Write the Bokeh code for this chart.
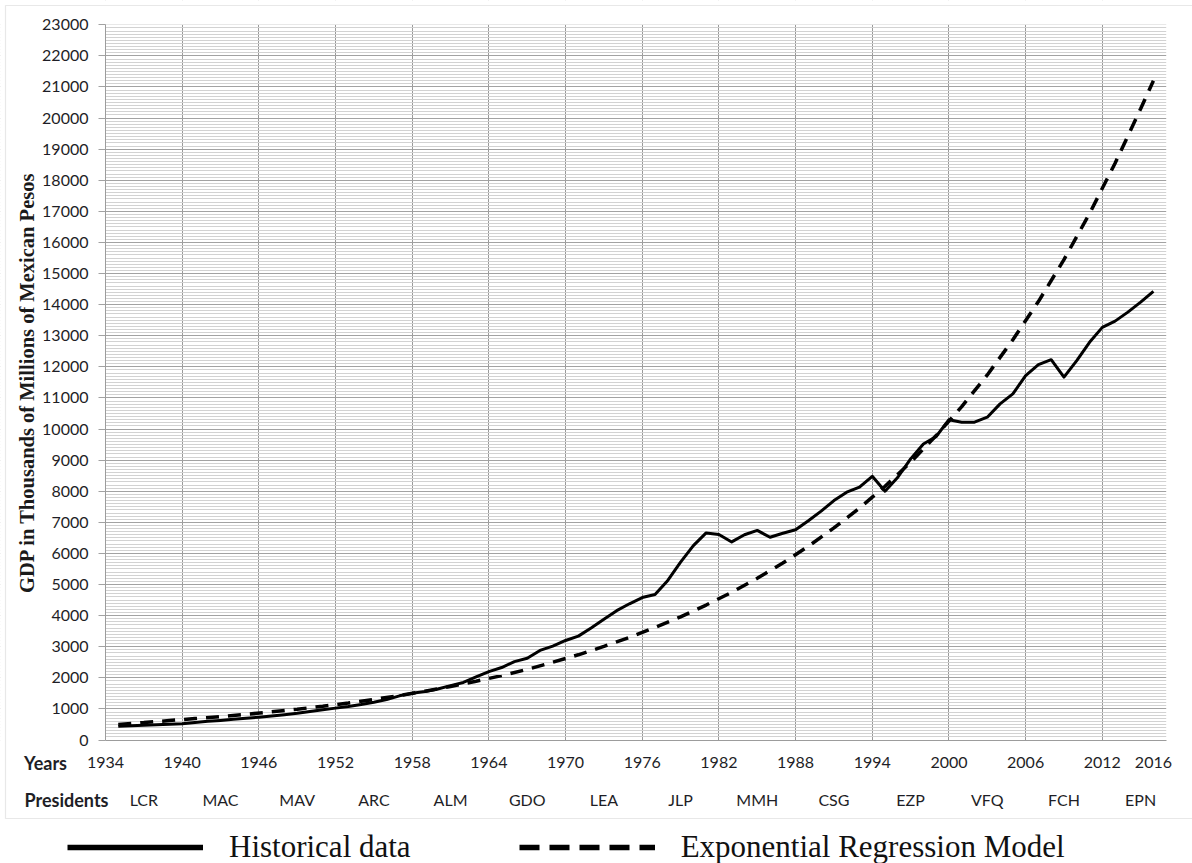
from bokeh.plotting import figure
from bokeh.models import (FixedTicker, LinearAxis, Range1d, Label, Legend,
                          LegendItem, BoxAnnotation, ColumnDataSource)
from bokeh.embed import file_html
from bokeh.resources import INLINE

# ---------------- data ----------------
hist_years = list(range(1935, 2017))
hist_gdp = [445, 460, 475, 490, 505, 520, 560, 600, 630, 665,
            700, 735, 775, 815, 860, 920, 975, 1025, 1075, 1140,
            1215, 1300, 1420, 1500, 1560, 1640, 1750, 1850, 2030, 2200,
            2330, 2520, 2630, 2880, 3020, 3200, 3340, 3600, 3880, 4160,
            4380, 4580, 4680, 5130, 5720, 6250, 6660, 6610, 6370, 6600,
            6740, 6520, 6650, 6760, 7050, 7360, 7700, 7970, 8130, 8480,
            8000, 8450, 9040, 9520, 9760, 10300, 10220, 10220, 10380, 10810,
            11130, 11720, 12070, 12230, 11670, 12200, 12790, 13270, 13470, 13760,
            14080, 14430]

model_years = list(range(1935, 2016, 2)) + [2016]
model_gdp = [500, 560, 625, 690, 755, 825, 905, 990, 1085, 1190,
             1305, 1430, 1570, 1720, 1890, 2070, 2270, 2500, 2740, 3010,
             3300, 3620, 3960, 4340, 4750, 5200, 5690, 6230, 6820, 7460,
             8160, 8930, 9790, 10720, 11740, 12870, 14100, 15450, 16930, 18550,
             20300, 21200]

year_ticks = [1934, 1940, 1946, 1952, 1958, 1964, 1970, 1976, 1982, 1988,
              1994, 2000, 2006, 2012, 2016]
grid_years = [1934, 1940, 1946, 1952, 1958, 1964, 1970, 1976, 1982, 1988,
              1994, 2000, 2006, 2012]
presidents = ["LCR", "MAC", "MAV", "ARC", "ALM", "GDO", "LEA", "JLP", "MMH",
              "CSG", "EZP", "VFQ", "FCH", "EPN"]
term_start = [1934, 1940, 1946, 1952, 1958, 1964, 1970, 1976, 1982, 1988,
              1994, 2000, 2006, 2012]
term_end = [1940, 1946, 1952, 1958, 1964, 1970, 1976, 1982, 1988, 1994,
            2000, 2006, 2012, 2018]
y_major = list(range(0, 23001, 1000))
y_minor = list(range(0, 23001, 100))

# ---------------- layout (pixels) ----------------
W, H = 1192, 863
CL, CR, CT, CB = 105.0, 1165.7, 24.3, 739.5     # chart area on the canvas
X0, X1, Y0, Y1 = 1934, 2017, 0, 23000
ppx = (CR - CL) / (X1 - X0)
ppy = (CB - CT) / (Y1 - Y0)


def dx(cx):  # canvas x -> data x
    return X0 + (cx - CL) / ppx


def dy(cy):  # canvas y -> data y
    return (CB - cy) / ppy


TXT = "#1e1e26"
SANS = "Lato"

p = figure(width=W, height=H, output_backend="svg", toolbar_location=None,
           x_range=Range1d(dx(0), dx(W)), y_range=Range1d(dy(H), dy(0)),
           min_border=0, outline_line_color=None,
           background_fill_color="white", border_fill_color="white")

# grids
p.xgrid.ticker = FixedTicker(ticks=grid_years)
p.xgrid.grid_line_color = "#999999"
p.yaxis.ticker = FixedTicker(ticks=y_major, minor_ticks=y_minor)
p.ygrid.grid_line_color = "#a2a2a2"
p.ygrid.minor_grid_line_color = "#d2d2d2"

# white masks so the grid stays inside the chart area
eps = 0.04
for l, r, b, t in [(dx(-5), X0 - eps, dy(H + 5), dy(-5)),
                   (X1, dx(W + 5), dy(H + 5), dy(-5)),
                   (dx(-5), dx(W + 5), dy(H + 5), Y0 - 3),
                   (dx(-5), dx(W + 5), Y1 + 3, dy(-5))]:
    p.add_layout(BoxAnnotation(left=l, right=r, bottom=b, top=t,
                               fill_color="white", fill_alpha=1,
                               line_color=None, level="underlay"))

# y axis
ya = p.yaxis[0]
ya.fixed_location = X0
ya.bounds = (Y0, Y1)
ya.axis_line_color = "#9c9c9c"
ya.major_tick_line_color = "#a2a2a2"
ya.major_tick_out = 7
ya.major_tick_in = 0
ya.minor_tick_line_color = None
ya.major_label_text_font = SANS
ya.major_label_text_font_size = "16px"
ya.major_label_text_color = TXT
ya.major_label_standoff = 10
ya.axis_label = "GDP in Thousands of Millions of Mexican Pesos"
ya.axis_label_text_font = "Liberation Serif"
ya.axis_label_text_font_style = "bold"
ya.axis_label_text_font_size = "20.5px"
ya.axis_label_text_color = "#1a1a1a"
ya.axis_label_standoff = 1

# x axis (years)
xa = p.xaxis[0]
xa.fixed_location = Y0
xa.bounds = (X0, X1)
xa.ticker = FixedTicker(ticks=year_ticks)
xa.axis_line_color = "#9c9c9c"
xa.major_tick_line_color = None
xa.minor_tick_line_color = None
xa.major_tick_out = 0
xa.major_tick_in = 0
xa.major_label_text_font = SANS
xa.major_label_text_font_size = "16px"
xa.major_label_text_color = TXT
xa.major_label_standoff = 17

# presidents axis
mids = [(a + b) // 2 for a, b in zip(term_start, term_end)]
pa = LinearAxis(ticker=FixedTicker(ticks=mids), fixed_location=Y0,
                major_label_overrides={m: n for m, n in zip(mids, presidents)},
                axis_line_color=None, major_tick_line_color=None,
                minor_tick_line_color=None, major_tick_out=0, major_tick_in=0,
                major_label_text_font=SANS, major_label_text_font_size="16px",
                major_label_text_color=TXT, major_label_standoff=50)
p.add_layout(pa, "below")

# row labels
for txt, cx, cy in [("Years", 45, 762), ("Presidents", 66, 799)]:
    p.add_layout(Label(x=dx(cx), y=dy(cy), text=txt, text_font=SANS,
                       text_font_style="bold", text_font_size="18px",
                       text_color=TXT, text_align="center",
                       text_baseline="middle"))

# outer frame box
p.add_layout(BoxAnnotation(left=dx(5), right=dx(W + 20), top=dy(5),
                           bottom=dy(818), fill_alpha=0,
                           line_color="#b4b4b4", line_width=1.2))

# series
src_h = ColumnDataSource(dict(x=hist_years, y=hist_gdp))
src_m = ColumnDataSource(dict(x=model_years, y=model_gdp))
p.line("x", "y", source=src_m, line_color="black", line_width=3.5,
       line_dash="13 9")
p.line("x", "y", source=src_h, line_color="black", line_width=3,
       line_join="round")

# legend proxies (thicker lines like the reference key; no drawn data)
nan = float("nan")
proxy = ColumnDataSource(dict(x=[nan], y=[nan]))
lh = p.line("x", "y", source=proxy, line_color="black", line_width=5.5)
lm = p.line("x", "y", source=proxy, line_color="black", line_width=5.5,
            line_dash="20 10")
leg = Legend(items=[LegendItem(label="Historical data", renderers=[lh]),
                    LegendItem(label="Exponential Regression Model",
                               renderers=[lm])],
             orientation="horizontal", location=(67, -2),
             glyph_width=136, glyph_height=20, label_standoff=26,
             spacing=108, padding=0, margin=0, border_line_color=None,
             background_fill_alpha=0, label_text_font="Liberation Serif",
             label_text_font_size="31px", label_text_color="#111111")
p.add_layout(leg, "center")

open("out.html", "w").write(file_html(p, INLINE))
